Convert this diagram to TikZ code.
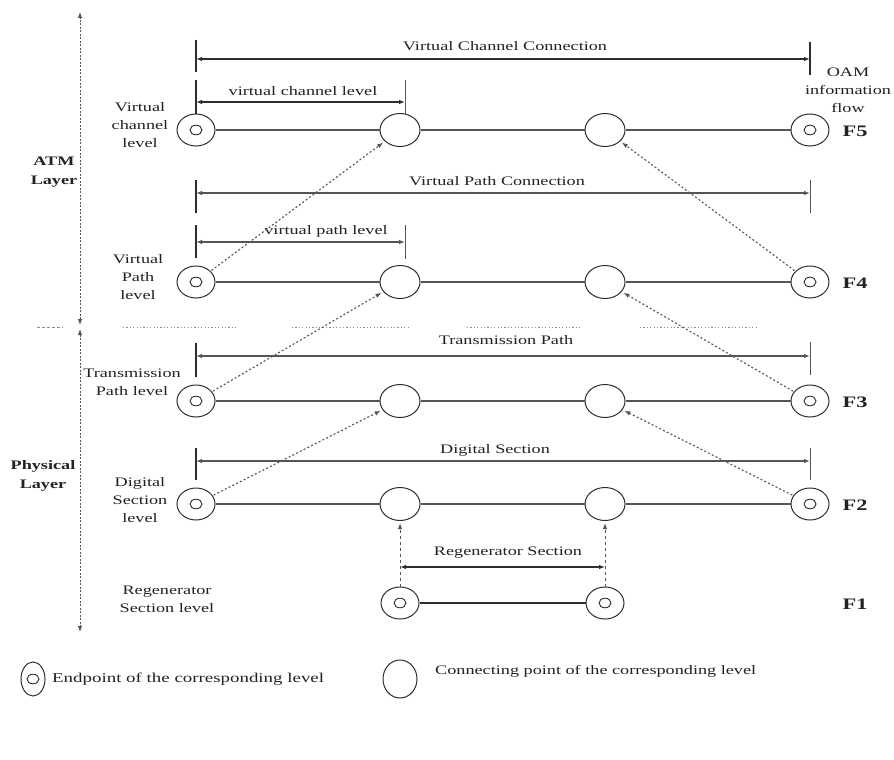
\documentclass[tikz,border=0pt]{standalone}
\usepackage{fontspec}
\setmainfont{Liberation Serif}[FakeStretch=1.4]
\usetikzlibrary{shapes.geometric,arrows.meta}
\definecolor{ink}{HTML}{2E2E2E}
\definecolor{wire}{HTML}{555555}
\definecolor{txt}{HTML}{222222}
\definecolor{faint}{HTML}{8A8A8A}
\tikzset{
  endpt/.style={ellipse, draw=ink, line width=1pt, minimum width=38pt, minimum height=32pt, inner sep=0pt,
    path picture={\draw[ink, line width=.9pt] (path picture bounding box.center) ellipse [x radius=6pt, y radius=4.8pt];}},
  conpt/.style={ellipse, draw=ink, line width=1pt, minimum width=40pt, minimum height=33pt, inner sep=0pt},
  rowline/.style={wire, line width=1.5pt},
  regline/.style={ink, line width=2pt},
  tick/.style={ink, line width=1.4pt},
  dimline/.style={ink, line width=1.4pt, {Latex[length=6pt,width=4.5pt]}-{Latex[length=6pt,width=4.5pt]}},
  flow/.style={wire, line width=1.1pt, dash pattern=on 2pt off 2.2pt, -{Latex[length=6pt,width=4.5pt]}, shorten >=2pt, shorten <=1pt},
  regarrow/.style={wire, line width=1pt, dash pattern=on 3pt off 3pt, -{Latex[length=6pt,width=4.5pt]}, shorten >=2pt},
  axis/.style={wire, line width=.9pt, dash pattern=on 2pt off 1.5pt, {Latex[length=6pt,width=4.5pt]}-{Latex[length=6pt,width=4.5pt]}},
  lbl/.style={text=txt, inner sep=0pt, align=center, font=\fontsize{13}{18}\selectfont},
  blbl/.style={text=txt, inner sep=0pt, align=center, font=\fontsize{13}{19}\selectfont\bfseries},
  flbl/.style={text=txt, inner sep=0pt, font=\fontsize{16}{18}\selectfont\bfseries},
}
\begin{document}
\begin{tikzpicture}[x=1pt,y=-1pt]
\useasboundingbox[fill=white] (0,0) rectangle (894,760);

% ---- level rows: endpoints at both ends, connecting points in between
\foreach \r/\yy in {5/130,4/282,3/401,2/504}{
  \node[endpt] (l\r) at (196,\yy) {};
  \node[conpt] (a\r) at (400,\yy) {};
  \node[conpt] (b\r) at (605,\yy) {};
  \node[endpt] (r\r) at (810,\yy) {};
  \draw[rowline] (l\r) -- (a\r) -- (b\r) -- (r\r);
}
% regenerator section row
\node[endpt] (g1) at (400,603) {};
\node[endpt] (g2) at (605,603) {};
\draw[regline] (g1) -- (g2);

% ---- dimension lines with end ticks
% virtual channel connection
\coordinate (vcc-lt) at (196,40);  \coordinate (vcc-lb) at (196,72);
\coordinate (vcc-rt) at (810,42);  \coordinate (vcc-rb) at (810,75);
\coordinate (vcc-l) at (196,59);   \coordinate (vcc-r) at (810,59);
\draw[tick] (vcc-lt) -- (vcc-lb);  \draw[tick] (vcc-rt) -- (vcc-rb);
\draw[dimline] (vcc-l) -- (vcc-r);
\node[lbl] (t-vcc) at (505,46) {Virtual Channel Connection};
% virtual channel level
\coordinate (vcl-lt) at (196,80);  \coordinate (vcl-lb) at (196,114);
\coordinate (vcl-rt) at (405,80);  \coordinate (vcl-rb) at (405,114);
\coordinate (vcl-l) at (196,102);  \coordinate (vcl-r) at (405,102);
\draw[tick] (vcl-lt) -- (vcl-lb);  \draw[tick, line width=1pt, wire] (vcl-rt) -- (vcl-rb);
\draw[dimline, line width=1.1pt] (vcl-l) -- (vcl-r);
\node[lbl] (t-vcl) at (303,91) {virtual channel level};
% virtual path connection
\coordinate (vpc-lt) at (196,180); \coordinate (vpc-lb) at (196,213);
\coordinate (vpc-rt) at (810,180); \coordinate (vpc-rb) at (810,213);
\coordinate (vpc-l) at (196,193);  \coordinate (vpc-r) at (810,193);
\draw[tick] (vpc-lt) -- (vpc-lb);  \draw[tick, line width=1pt, wire] (vpc-rt) -- (vpc-rb);
\draw[dimline, wire] (vpc-l) -- (vpc-r);
\node[lbl] (t-vpc) at (497,181) {Virtual Path Connection};
% virtual path level
\coordinate (vpl-lt) at (196,225); \coordinate (vpl-lb) at (196,258);
\coordinate (vpl-rt) at (405,225); \coordinate (vpl-rb) at (405,259);
\coordinate (vpl-l) at (196,242);  \coordinate (vpl-r) at (405,242);
\draw[tick] (vpl-lt) -- (vpl-lb);  \draw[tick, line width=1pt, wire] (vpl-rt) -- (vpl-rb);
\draw[dimline, wire] (vpl-l) -- (vpl-r);
\node[lbl] (t-vpl) at (326,231) {virtual path level};
% transmission path
\coordinate (tp-lt) at (196,343);  \coordinate (tp-lb) at (196,377);
\coordinate (tp-rt) at (810,342);  \coordinate (tp-rb) at (810,375);
\coordinate (tp-l) at (196,356);   \coordinate (tp-r) at (810,356);
\draw[tick] (tp-lt) -- (tp-lb);    \draw[tick, line width=1pt, wire] (tp-rt) -- (tp-rb);
\draw[dimline, wire] (tp-l) -- (tp-r);
\node[lbl] (t-tp) at (506,340) {Transmission Path};
% digital section
\coordinate (ds-lt) at (196,448);  \coordinate (ds-lb) at (196,480);
\coordinate (ds-rt) at (810,448);  \coordinate (ds-rb) at (810,480);
\coordinate (ds-l) at (196,461);   \coordinate (ds-r) at (810,461);
\draw[tick] (ds-lt) -- (ds-lb);    \draw[tick, line width=1pt, wire] (ds-rt) -- (ds-rb);
\draw[dimline, wire] (ds-l) -- (ds-r);
\node[lbl] (t-ds) at (495,450) {Digital Section};
% regenerator section
\draw[regarrow] (g1) -- (a2);
\draw[regarrow] (g2) -- (b2);
\coordinate (rs-l) at (400,567);   \coordinate (rs-r) at (605,567);
\draw[dimline, line width=1.1pt] (rs-l) -- (rs-r);
\node[lbl] (t-rs) at (508,553) {Regenerator Section};

% ---- OAM flows between levels
\draw[flow] (l4) -- (a5);
\draw[flow] (r4) -- (b5);
\draw[flow] (l3) -- (a4);
\draw[flow] (r3) -- (b4);
\draw[flow] (l2) -- (a3);
\draw[flow] (r2) -- (b3);

% ---- layer axis and layer divider
\coordinate (ax-top) at (80,12);
\coordinate (ax-m1) at (80,325);
\coordinate (ax-m2) at (80,329);
\coordinate (ax-bot) at (80,632);
\draw[axis] (ax-m1) -- (ax-top);
\draw[axis] (ax-m2) -- (ax-bot);
\draw[faint, line width=.8pt, dash pattern=on 3pt off 2pt] (37,327) -- (63,327);
\foreach \xa/\xb in {123/237, 292/410, 467/580, 640/757}
  \draw[faint, line width=.8pt, dash pattern=on 1.2pt off 2.2pt] (\xa,327) -- (\xb,327);

% ---- level names
\node[lbl] (n5) at (140,125) {Virtual\\channel\\level};
\node[lbl] (n4) at (138,277) {Virtual\\Path\\level};
\node[lbl] (n3) at (132,382) {Transmission\\Path level};
\node[lbl] (n2) at (140,500) {Digital\\Section\\level};
\node[lbl] (n1) at (167,599) {Regenerator\\Section level};
\node[blbl] (atm) at (54,172) {ATM\\Layer};
\node[blbl] (phy) at (43,476) {Physical\\Layer};

% ---- flow names
\node[lbl] (oam) at (848,90) {OAM\\information\\flow};
\node[flbl] (f5) at (855,131) {F5};
\node[flbl] (f4) at (855,283) {F4};
\node[flbl] (f3) at (855,402) {F3};
\node[flbl] (f2) at (855,505) {F2};
\node[flbl] (f1) at (855,604) {F1};

% ---- legend
\node[endpt, minimum width=24pt, minimum height=34pt] (k-end) at (33,679) {};
\node[lbl, anchor=west, font=\fontsize{13.5}{18}\selectfont] (k-endt) at (52,679) {Endpoint of the corresponding level};
\node[conpt, minimum width=34pt, minimum height=38pt] (k-con) at (400,679) {};
\node[lbl, anchor=west] (k-cont) at (435,671) {Connecting point of the corresponding level};
\end{tikzpicture}
\end{document}
